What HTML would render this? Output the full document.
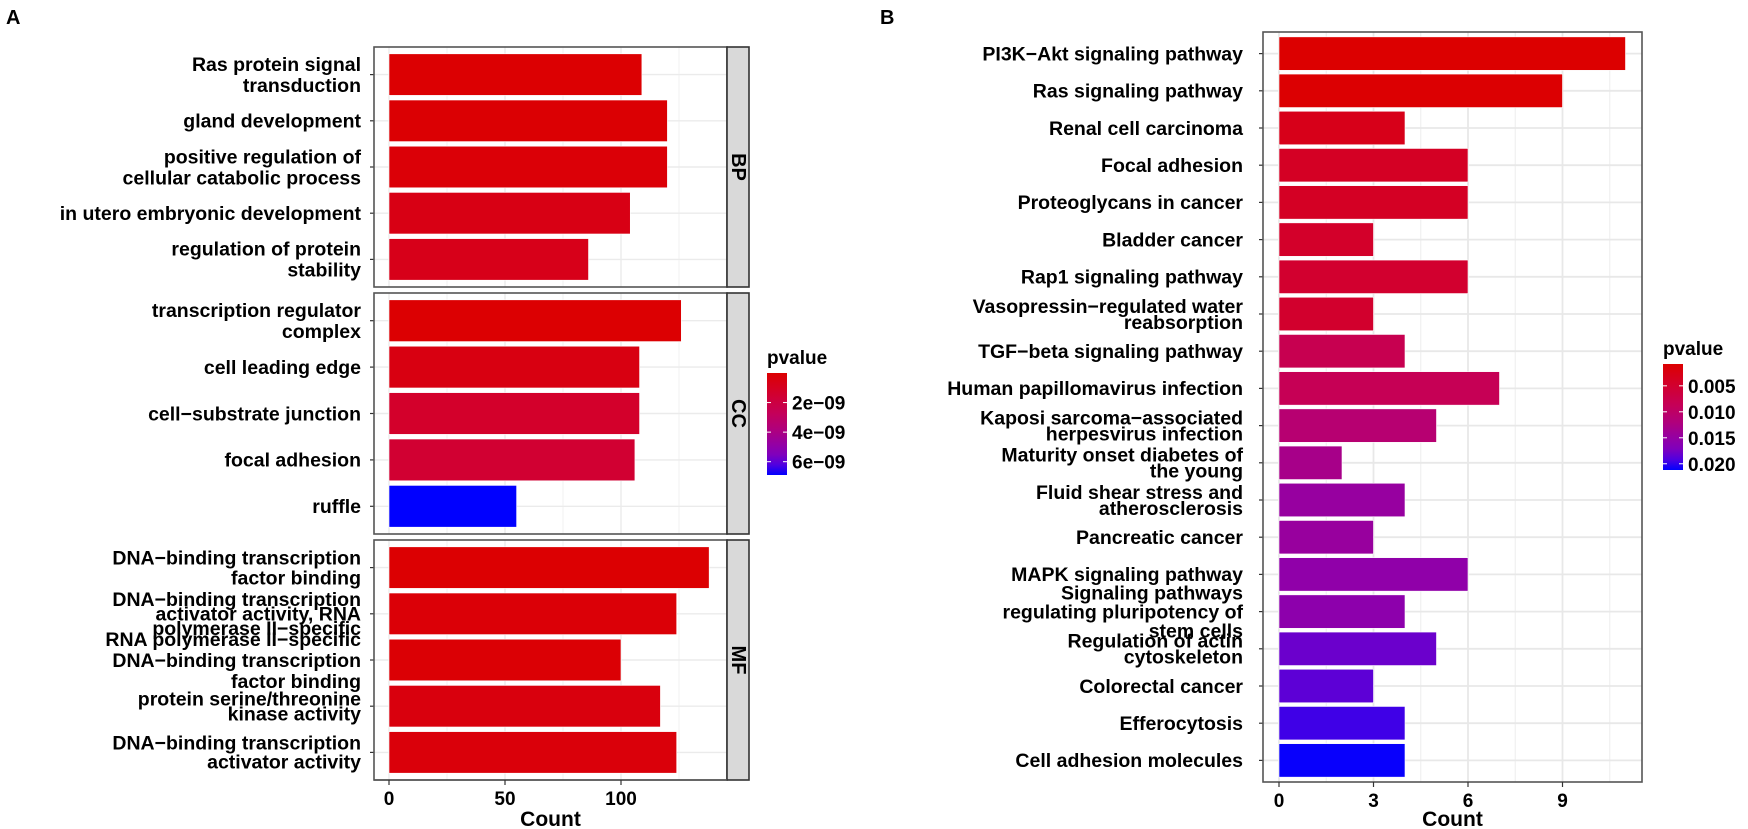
<!DOCTYPE html>
<html><head><meta charset="utf-8"><style>
html,body{margin:0;padding:0;background:#fff;width:1748px;height:829px;overflow:hidden}
svg text{font-family:"Liberation Sans",Arial,sans-serif;font-weight:bold;fill:#000}
</style></head><body>
<svg id="chart" width="1748" height="829" viewBox="0 0 1748 829" xmlns="http://www.w3.org/2000/svg">
<defs>
<linearGradient id="gradA" x1="0" y1="0" x2="0" y2="1"></linearGradient>
<linearGradient id="gradB" x1="0" y1="0" x2="0" y2="1"></linearGradient>
</defs>
<text x="6" y="24" font-size="20">A</text>
<text x="880" y="24" font-size="20">B</text>
<g id="gA"></g>
<g id="gB"></g>
</svg>
<script>
// ---------- Panel A data ----------
const goGroups = ["BP", "CC", "MF"];
const goLabels = [
  ["Ras protein signal\ntransduction", "gland development", "positive regulation of\ncellular catabolic process", "in utero embryonic development", "regulation of protein\nstability"],
  ["transcription regulator\ncomplex", "cell leading edge", "cell\u2212substrate junction", "focal adhesion", "ruffle"],
  ["DNA\u2212binding transcription\nfactor binding", "DNA\u2212binding transcription\nactivator activity, RNA\npolymerase II\u2212specific", "RNA polymerase II\u2212specific\nDNA\u2212binding transcription\nfactor binding", "protein serine/threonine\nkinase activity", "DNA\u2212binding transcription\nactivator activity"]
];
const goLineSpacing = [
  [21, 21, 21, 21, 21],
  [21, 21, 21, 21, 21],
  [20, 14.5, 21, 15, 19]
];
const goCounts = [
  [109, 120, 120, 104, 86],
  [126, 108, 108, 106, 55],
  [138, 124, 100, 117, 124]
];
const goPvalues = [
  [0.05e-9, 0.08e-9, 0.2e-9, 0.6e-9, 0.75e-9],
  [0.05e-9, 0.5e-9, 1.3e-9, 1.5e-9, 6.9e-9],
  [0.05e-9, 0.2e-9, 0.15e-9, 0.4e-9, 0.3e-9]
];
const goXTicks = [0, 50, 100];
const goLegendTicks = [2e-9, 4e-9, 6e-9];
const goLegendLabels = ["2e\u221209", "4e\u221209", "6e\u221209"];

// ---------- Panel B data ----------
const keggLabels = ["PI3K\u2212Akt signaling pathway", "Ras signaling pathway", "Renal cell carcinoma", "Focal adhesion", "Proteoglycans in cancer", "Bladder cancer", "Rap1 signaling pathway", "Vasopressin\u2212regulated water\nreabsorption", "TGF\u2212beta signaling pathway", "Human papillomavirus infection", "Kaposi sarcoma\u2212associated\nherpesvirus infection", "Maturity onset diabetes of\nthe young", "Fluid shear stress and\natherosclerosis", "Pancreatic cancer", "MAPK signaling pathway", "Signaling pathways\nregulating pluripotency of\nstem cells", "Regulation of actin\ncytoskeleton", "Colorectal cancer", "Efferocytosis", "Cell adhesion molecules"];
const keggCounts = [11, 9, 4, 6, 6, 3, 6, 3, 4, 7, 5, 2, 4, 3, 6, 4, 5, 3, 4, 4];
const keggPvalues = [0.0008, 0.001, 0.003, 0.004, 0.004, 0.0045, 0.005, 0.0048, 0.008, 0.0085, 0.011, 0.013, 0.0148, 0.0146, 0.0155, 0.0158, 0.018, 0.0186, 0.0196, 0.021];
const keggXTicks = [0, 3, 6, 9];
const keggLegendTicks = [0.005, 0.010, 0.015, 0.020];
const keggLegendLabels = ["0.005", "0.010", "0.015", "0.020"];

const NS = "http://www.w3.org/2000/svg";
function mk(parent, tag, attrs, text) {
  const e = document.createElementNS(NS, tag);
  for (const k in attrs) e.setAttribute(k, attrs[k]);
  if (text !== undefined) e.textContent = text;
  parent.appendChild(e);
  return e;
}
const stops = [[0,[220,0,0]],[0.2,[210,0,46]],[0.4,[196,0,90]],[0.55,[176,0,124]],[0.7,[148,0,164]],[0.8,[128,0,188]],[0.9,[80,0,224]],[1,[0,0,255]]];
function colorT(t) {
  t = Math.max(0, Math.min(1, t));
  for (let i = 1; i < stops.length; i++) {
    if (t <= stops[i][0]) {
      const a = stops[i-1], b = stops[i], f = (t - a[0]) / (b[0] - a[0]);
      const c = a[1].map((v, j) => Math.round(v + (b[1][j] - v) * f));
      return "rgb(" + c.join(",") + ")";
    }
  }
  return "rgb(0,0,255)";
}
function fillGrad(id) {
  const g = document.getElementById(id);
  for (let i = 0; i <= 20; i++) mk(g, "stop", {offset: (i/20), "stop-color": colorT(i/20)});
}
fillGrad("gradA"); fillGrad("gradB");

function drawLabel(g, txt, xRight, yc, lh, fs) {
  const lines = txt.split("\n");
  const t = mk(g, "text", {x: xRight, y: yc - (lines.length - 1) * lh / 2 + fs * 0.35, "font-size": fs, "text-anchor": "end"});
  
  
  lines.forEach((l, i) => {
    mk(t, "tspan", {x: xRight, dy: i === 0 ? 0 : lh}, l);
  });
}

// ---------- Panel A ----------
(function(){
  const g = document.getElementById("gA");
  const x0 = 389, pxPer = 2.32;
  const xs = v => x0 + v * pxPer;
  const pL = 374, pR = 727, sR = 749;
  const panels = [[47, 287], [293, 534], [540, 780]];
  const pMin = 0, pMax = 6.9e-9;
  goGroups.forEach((grp, gi) => {
    const [T, B] = panels[gi];
    const pitch = (B - T - 9) / 5;
    const cy = k => T + 4.5 + pitch * (k + 0.5);
    const pg = mk(g, "g", {});
    
    
    mk(pg, "rect", {x: pL, y: T, width: pR - pL, height: B - T, fill: "#fff"});
    [25, 75, 125].forEach(v => mk(pg, "line", {x1: xs(v), x2: xs(v), y1: T, y2: B, stroke: "#f2f2f2", "stroke-width": 1}));
    goXTicks.forEach(v => mk(pg, "line", {x1: xs(v), x2: xs(v), y1: T, y2: B, stroke: "#ebebeb", "stroke-width": 1.4}));
    for (let k = 0; k < 5; k++) mk(pg, "line", {x1: pL, x2: pR, y1: cy(k), y2: cy(k), stroke: "#ebebeb", "stroke-width": 1.4});
    goCounts[gi].forEach((c, k) => {
      const h = pitch * 0.9;
      const r = mk(pg, "rect", {x: xs(0), y: cy(k) - h / 2, width: xs(c) - xs(0), height: h, fill: colorT((goPvalues[gi][k] - pMin) / (pMax - pMin)), stroke: "#fff", "stroke-width": 0.6});
      
      
      mk(pg, "line", {x1: pL - 4, x2: pL, y1: cy(k), y2: cy(k), stroke: "#333", "stroke-width": 1.2});
      drawLabel(pg, goLabels[gi][k], 361, cy(k), goLineSpacing[gi][k], 19.5);
    });
    mk(pg, "rect", {x: pL, y: T, width: pR - pL, height: B - T, fill: "none", stroke: "#555", "stroke-width": 1.6});
    const st = mk(pg, "rect", {x: pR, y: T, width: sR - pR, height: B - T, fill: "#d9d9d9", stroke: "#333", "stroke-width": 1.6});
    
    
    const sx = (pR + sR) / 2, sy = (T + B) / 2;
    mk(pg, "text", {x: sx, y: sy, "font-size": 20, "text-anchor": "middle", "dominant-baseline": "central", transform: "rotate(90 " + sx + " " + sy + ")"}, grp);
  });
  mk(g, "line", {x1: pL, x2: pR, y1: 780, y2: 780, stroke: "#555", "stroke-width": 1.6});
  goXTicks.forEach(v => {
    mk(g, "line", {x1: xs(v), x2: xs(v), y1: 780, y2: 785, stroke: "#333", "stroke-width": 1.2});
    const t = mk(g, "text", {x: xs(v), y: 805, "font-size": 19, "text-anchor": "middle"}, String(v));
    
    
  });
  const xt = mk(g, "text", {x: (pL + pR) / 2, y: 826, "font-size": 21, "text-anchor": "middle"}, "Count");
  
  
  const lg = mk(g, "g", {});
  
  
  const lT = 373, lB = 475, lx = 767;
  mk(lg, "text", {x: lx, y: 364, "font-size": 19}, "pvalue");
  mk(lg, "rect", {x: lx, y: lT, width: 20, height: lB - lT, fill: "url(#gradA)"});
  const ly = v => lT + (v - pMin) / (pMax - pMin) * (lB - lT);
  goLegendTicks.forEach((v, i) => {
    mk(lg, "line", {x1: lx, x2: lx + 4, y1: ly(v), y2: ly(v), stroke: "#fff", "stroke-width": 1});
    mk(lg, "line", {x1: lx + 16, x2: lx + 20, y1: ly(v), y2: ly(v), stroke: "#fff", "stroke-width": 1});
    mk(lg, "text", {x: lx + 25, y: ly(v) + 7, "font-size": 19}, goLegendLabels[i]);
  });
})();

// ---------- Panel B ----------
(function(){
  const g = document.getElementById("gB");
  const x0 = 1279, pxPer = 31.5;
  const xs = v => x0 + v * pxPer;
  const pL = 1263, pR = 1642, T = 32, B = 782;
  const n = keggLabels.length;
  const pitch = (B - T - 6) / n;
  const cy = k => T + 3 + pitch * (k + 0.5);
  const pMin = 0.0008, pMax = 0.0212;
  mk(g, "rect", {x: pL, y: T, width: pR - pL, height: B - T, fill: "#fff"});
  [1.5, 4.5, 7.5, 10.5].forEach(v => mk(g, "line", {x1: xs(v), x2: xs(v), y1: T, y2: B, stroke: "#f0f0f0", "stroke-width": 1.2}));
  keggXTicks.forEach(v => mk(g, "line", {x1: xs(v), x2: xs(v), y1: T, y2: B, stroke: "#e8e8e8", "stroke-width": 1.8}));
  for (let k = 0; k < n; k++) mk(g, "line", {x1: pL, x2: pR, y1: cy(k), y2: cy(k), stroke: "#e8e8e8", "stroke-width": 1.8});
  keggCounts.forEach((c, k) => {
    const h = pitch * 0.9;
    const r = mk(g, "rect", {x: xs(0), y: cy(k) - h / 2, width: xs(c) - xs(0), height: h, fill: colorT((keggPvalues[k] - pMin) / (pMax - pMin)), stroke: "#fff", "stroke-width": 0.6});
    
    
    mk(g, "line", {x1: pL - 4, x2: pL, y1: cy(k), y2: cy(k), stroke: "#333", "stroke-width": 1.2});
    drawLabel(g, keggLabels[k], 1243, cy(k), keggLabels[k].split("\n").length === 3 ? 19 : 16, 19.5);
  });
  mk(g, "rect", {x: pL, y: T, width: pR - pL, height: B - T, fill: "none", stroke: "#555", "stroke-width": 1.6});
  keggXTicks.forEach(v => {
    mk(g, "line", {x1: xs(v), x2: xs(v), y1: B, y2: B + 5, stroke: "#333", "stroke-width": 1.2});
    const t = mk(g, "text", {x: xs(v), y: 807, "font-size": 19, "text-anchor": "middle"}, String(v));
    
    
  });
  const xt = mk(g, "text", {x: (pL + pR) / 2, y: 826, "font-size": 21, "text-anchor": "middle"}, "Count");
  
  
  const lg = mk(g, "g", {});
  
  
  const lT = 364, lB = 470, lx = 1663;
  mk(lg, "text", {x: lx, y: 355, "font-size": 19}, "pvalue");
  mk(lg, "rect", {x: lx, y: lT, width: 20, height: lB - lT, fill: "url(#gradB)"});
  const ly = v => lT + (v - pMin) / (pMax - pMin) * (lB - lT);
  keggLegendTicks.forEach((v, i) => {
    mk(lg, "line", {x1: lx, x2: lx + 4, y1: ly(v), y2: ly(v), stroke: "#fff", "stroke-width": 1});
    mk(lg, "line", {x1: lx + 16, x2: lx + 20, y1: ly(v), y2: ly(v), stroke: "#fff", "stroke-width": 1});
    mk(lg, "text", {x: lx + 25, y: ly(v) + 7, "font-size": 19}, keggLegendLabels[i]);
  });
})();
</script>
</body></html>
